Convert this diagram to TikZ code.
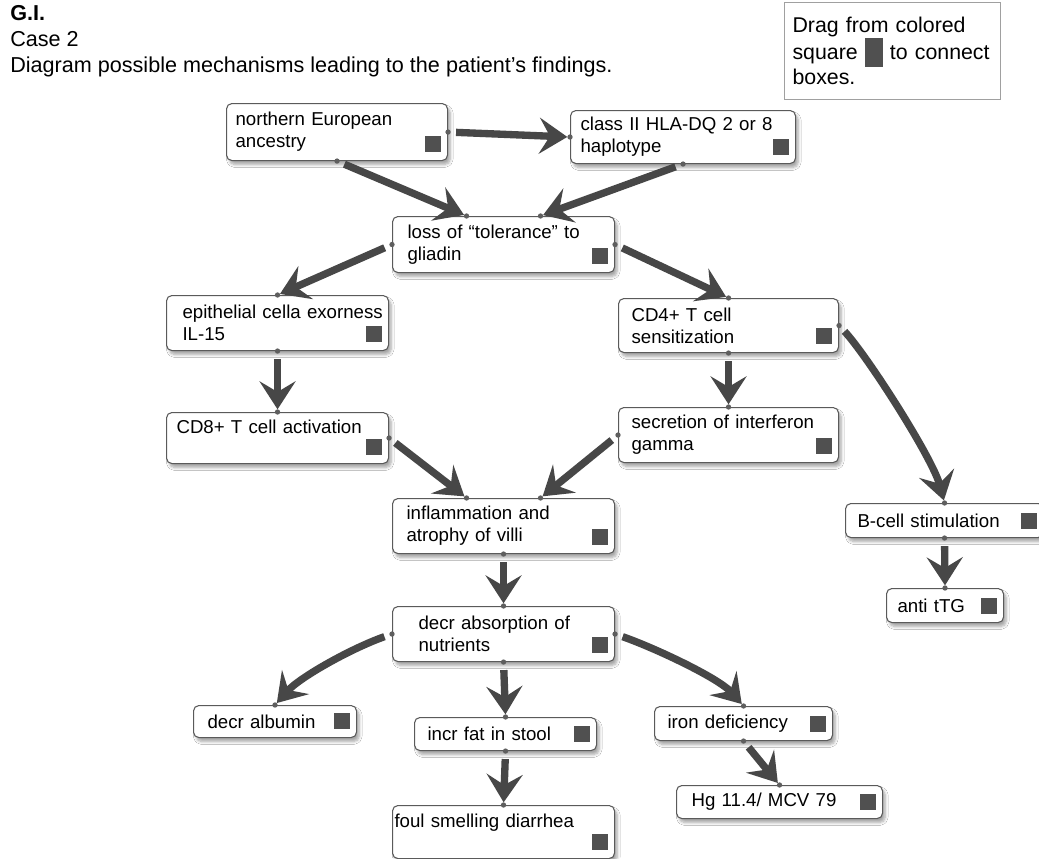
\documentclass[tikz,border=0pt]{standalone}
\usepackage{fontspec}
\setmainfont{Liberation Sans}
\usetikzlibrary{arrows.meta,shadows.blur}

\definecolor{boxline}{HTML}{5A5A5A}
\definecolor{handle}{HTML}{505050}
\definecolor{arrowc}{HTML}{474747}
\definecolor{dotc}{HTML}{5E5E5E}
\definecolor{hintline}{HTML}{A0A0A0}

\tikzset{
  cbox/.style n args={3}{draw=boxline,line width=0.8pt,rounded corners=4pt,fill=white,
    blur shadow={shadow xshift=2pt,shadow yshift=-3pt,shadow blur steps=6,shadow opacity=35},
    anchor=north west,inner xsep=0pt,inner ysep=0pt,text width=#1,minimum height=#2,
    align=left,font=\fontsize{14}{16.5}\selectfont,
    execute at begin node={\leftskip=#3},
    path picture={\fill[handle,sharp corners] ([xshift=-17.25pt,yshift=6.75pt]path picture bounding box.south east) rectangle ++(12pt,12pt);}},
  flow/.style={draw=arrowc,line width=5.5pt,shorten <=6pt,shorten >=2pt,
    -{Stealth[length=21pt,width=27pt,inset=8pt]}},
  heading/.style={anchor=base west,inner sep=0pt,font=\fontsize{16.2}{19}\selectfont}
}

\begin{document}
\begin{tikzpicture}[x=0.75pt,y=-0.75pt]
\fill[white] (0,0) rectangle (1039,858);
\useasboundingbox (0,0) rectangle (1039,858);

% heading and hint
\node[heading,font=\fontsize{16.2}{19}\selectfont\bfseries] (gi) at (10,20) {G.I.};
\node[heading] (case) at (10,46) {Case 2};
\node[heading] (task) at (10,72) {Diagram possible mechanisms leading to the patient’s findings.};
\node[draw=hintline,line width=0.8pt,anchor=north west,inner xsep=6pt,inner ysep=0pt,
  text width=150pt,minimum height=72.75pt,align=left,font=\fontsize{16}{19}\selectfont] (hint) at (784,2)
  {Drag from colored\\square \textcolor{handle}{\rule[-6pt]{13.5pt}{21.75pt}} to connect\\boxes.};

% boxes
\node[cbox={165.75pt}{42.75pt}{6.75pt}] (anc) at (226,103) {northern European\\ancestry};
\node[cbox={168.75pt}{39.75pt}{7.5pt}] (hla) at (570,110) {class II HLA-DQ 2 or 8\\haplotype};
\node[cbox={166.5pt}{42pt}{11.25pt}] (loss) at (392,216) {loss of “tolerance” to\\gliadin};
\node[cbox={166.5pt}{41.25pt}{12pt}] (epi) at (166,295) {epithelial cella exorness\\IL-15};
\node[cbox={165pt}{40.5pt}{9.75pt}] (cdf) at (618,298) {CD4+ T cell\\sensitization};
\node[cbox={166.5pt}{38.25pt}{7.5pt}] (cde) at (166,412) {CD8+ T cell activation\\\mbox{}};
\node[cbox={165pt}{41.25pt}{9.75pt}] (ifn) at (618,407) {secretion of interferon\\gamma};
\node[cbox={166.5pt}{41.25pt}{10.5pt}] (infl) at (392,498) {inflammation and\\atrophy of villi};
\node[cbox={148.5pt}{25.5pt}{9pt}] (bcell) at (845,503) {B-cell stimulation};
\node[cbox={87.75pt}{25.5pt}{8.25pt}] (ttg) at (886,588) {anti tTG};
\node[cbox={166.5pt}{41.25pt}{19.5pt}] (abs) at (392,606) {decr absorption of\\nutrients};
\node[cbox={122.25pt}{24pt}{10.5pt}] (alb) at (193,705) {decr albumin};
\node[cbox={136.5pt}{24.75pt}{9.75pt}] (fat) at (414,717) {incr fat in stool};
\node[cbox={133.5pt}{25.5pt}{9.75pt}] (iron) at (654,706) {iron deficiency};
\node[cbox={154.5pt}{24.75pt}{11.25pt}] (hg) at (676,785) {Hg 11.4/ MCV 79};
\node[cbox={166.5pt}{39.75pt}{1.5pt}] (foul) at (392,805) {foul smelling diarrhea\\\mbox{}};

\coordinate (loss-l) at ([xshift=-27.75pt]loss.north);
\coordinate (loss-r) at ([xshift=27.75pt]loss.north);
\coordinate (infl-l) at ([xshift=-27.75pt]infl.north);
\coordinate (infl-r) at ([xshift=27.75pt]infl.north);

% links
\draw[flow] (anc.east) -- (hla.west);
\draw[flow] (anc.south) -- (loss-l);
\draw[flow] (hla.south) -- (loss-r);
\draw[flow] (loss.west) -- (epi.north);
\draw[flow] (loss.east) -- (cdf.north);
\draw[flow] (epi.south) -- (cde.north);
\draw[flow] (cdf.south) -- (ifn.north);
\draw[flow] (cdf.east) .. controls +(28,30) and +(-12,-45) .. (bcell.north);
\draw[flow] (cde.east) -- (infl-l);
\draw[flow] (ifn.west) -- (infl-r);
\draw[flow] (infl.south) -- (abs.north);
\draw[flow] (abs.west) .. controls +(-40,14) and +(25,-28) .. (alb.north);
\draw[flow] (abs.south) -- (fat.north);
\draw[flow] (abs.east) .. controls +(40,14) and +(-25,-28) .. (iron.north);
\draw[flow] (fat.south) -- (foul.north);
\draw[flow] (iron.south) -- (hg.north);
\draw[flow] (bcell.south) -- (ttg.north);

% connection dots
\foreach \p in {anc.east,anc.south,hla.west,hla.south,loss-l,loss-r,loss.west,loss.east,
  epi.north,epi.south,cdf.north,cdf.south,cdf.east,cde.north,cde.east,ifn.north,ifn.west,
  infl-l,infl-r,infl.south,abs.north,abs.west,abs.east,abs.south,alb.north,fat.north,
  fat.south,iron.north,iron.south,hg.north,foul.north,bcell.north,bcell.south,ttg.north}
  \fill[dotc] (\p) circle (2pt);
\end{tikzpicture}
\end{document}
